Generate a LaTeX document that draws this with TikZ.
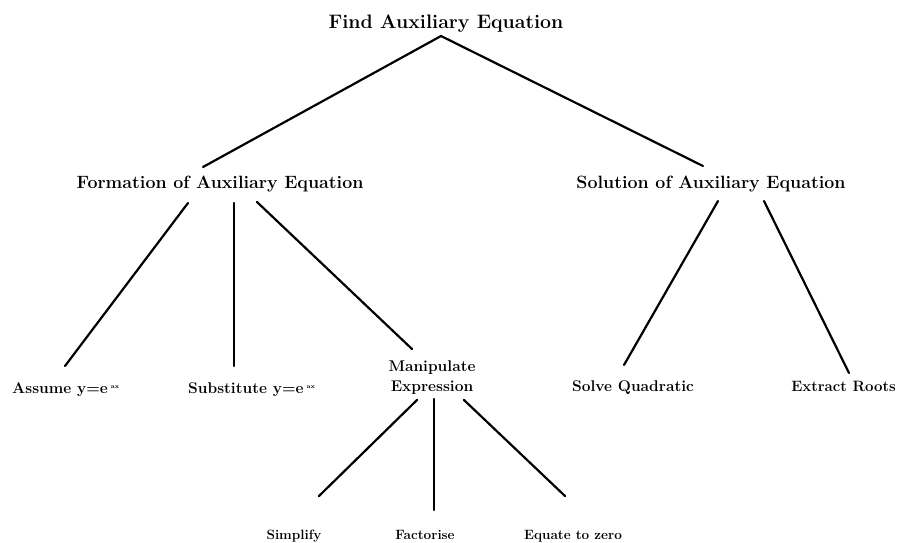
\documentclass[tikz,border=0pt]{standalone}
\usepackage{fontspec}
\begin{document}
\begin{tikzpicture}[x=1pt,y=-1pt,
  lbl/.style={inner sep=0pt, anchor=base},
  top/.style={font=\bfseries\fontsize{19.5}{22}\selectfont},
  mid/.style={font=\bfseries\fontsize{17.8}{21}\selectfont},
  leaf/.style={font=\bfseries\fontsize{15.5}{20}\selectfont},
  small/.style={font=\bfseries\fontsize{13.5}{16}\selectfont},
  conn/.style={line width=2.2pt, line cap=round}]
\useasboundingbox (0,0) rectangle (898,542);
\newcommand{\supax}{\hspace{3pt}\raisebox{5pt}{\fontsize{6}{6}\selectfont ax}}
% nodes
\node[lbl, top] (find) at (446,28.5) {Find Auxiliary Equation};
\node[lbl, mid] (form) at (220,188) {Formation of Auxiliary Equation};
\node[lbl, mid] (sol) at (711,188) {Solution of Auxiliary Equation};
\node[lbl, leaf, anchor=base west] (assume) at (12,393) {Assume y=e\supax};
\node[lbl, leaf, anchor=base west] (subst) at (188,393) {Substitute y=e\supax};
\node[lbl, leaf, anchor=north, align=center] (manip) at (432,360.7) {Manipulate\\Expression};
\node[lbl, leaf, anchor=base west] (solve) at (572,391.5) {Solve Quadratic};
\node[lbl, anchor=base east, font=\bfseries\fontsize{15}{18}\selectfont] (extract) at (896,391.5) {Extract Roots};
\node[lbl, small] (simp) at (294,539.5) {Simplify};
\node[lbl, small] (fact) at (425,539.5) {Factorise};
\node[lbl, small] (equ) at (573,539.5) {Equate to zero};
% connector ends
\coordinate (findS) at (441,36);
\coordinate (formN) at (203,167);
\coordinate (solN) at (703,166);
\coordinate (formS1) at (188,203);
\coordinate (formS2) at (234,203);
\coordinate (formS3) at (257,202);
\coordinate (assumeN) at (65,366);
\coordinate (substN) at (234,366);
\coordinate (manipN) at (412,349);
\coordinate (solS1) at (718,201);
\coordinate (solS2) at (764,201);
\coordinate (solveN) at (624,365);
\coordinate (extractN) at (849,373);
\coordinate (manipS1) at (417,400);
\coordinate (manipS2) at (434,399);
\coordinate (manipS3) at (464,400);
\coordinate (simpN) at (319,496);
\coordinate (factN) at (434,510);
\coordinate (equN) at (565,496);
% connectors
\draw[conn] (formN) -- (findS) -- (solN);
\draw[conn] (formS1) -- (assumeN);
\draw[conn] (formS2) -- (substN);
\draw[conn] (formS3) -- (manipN);
\draw[conn] (solS1) -- (solveN);
\draw[conn] (solS2) -- (extractN);
\draw[conn] (manipS1) -- (simpN);
\draw[conn] (manipS2) -- (factN);
\draw[conn] (manipS3) -- (equN);
\end{tikzpicture}
\end{document}
